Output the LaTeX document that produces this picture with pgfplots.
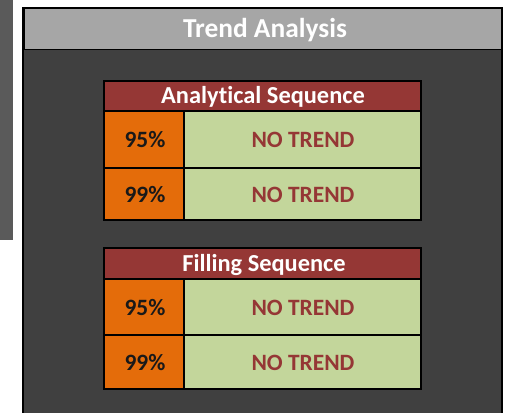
\documentclass[border=0pt]{standalone}
\usepackage{pgfplots}
\pgfplotsset{compat=1.18}
\usepackage{fontspec}
\setmainfont{Carlito}[Ligatures=NoCommon]

\definecolor{titlegray}{HTML}{A6A6A6}
\definecolor{panelgray}{HTML}{404040}
\definecolor{stripgray}{HTML}{5A5A5A}
\definecolor{hdrred}{HTML}{953735}
\definecolor{cellorange}{HTML}{E46C0A}
\definecolor{cellgreen}{HTML}{C3D69B}

% rectangle in pixel coordinates: x1,y1,x2,y2
\newcommand{\cellrect}[5]{%
  \addplot[#5] coordinates {(#1,#2) (#3,#2) (#3,#4) (#1,#4)} -- cycle;}

\begin{document}
\begin{tikzpicture}
\begin{axis}[
  width=508bp, height=413bp, scale only axis,
  xmin=0, xmax=508, ymin=0, ymax=413,
  y dir=reverse, hide axis,
]
  % background
  \cellrect{0}{0}{508}{413}{fill=white, draw=none}
  \cellrect{0}{0}{13}{240}{fill=stripgray, draw=none}

  % panel + title bar
  \cellrect{23}{8}{502}{420}{fill=panelgray, draw=black, line width=1.5bp}
  \cellrect{24}{9}{501}{50}{fill=titlegray, draw=black, line width=1bp}
  \node[text=white, font=\fontsize{27.5}{32}\selectfont\bfseries] at (axis cs:265,30) {Trend Analysis};

  % analytical sequence table
  \cellrect{104}{81}{421}{111}{fill=hdrred, draw=none}
  \cellrect{104}{111}{184}{168}{fill=cellorange, draw=black, line width=1.2bp}
  \cellrect{184}{111}{421}{168}{fill=cellgreen, draw=black, line width=1.2bp}
  \cellrect{104}{168}{184}{220}{fill=cellorange, draw=black, line width=1.2bp}
  \cellrect{184}{168}{421}{220}{fill=cellgreen, draw=black, line width=1.2bp}
  \cellrect{104}{81}{421}{220}{draw=black, line width=2.5bp}
  \addplot[black, line width=2bp] coordinates {(104,111) (421,111)};

  % filling sequence table
  \cellrect{104}{248}{421}{279}{fill=hdrred, draw=none}
  \cellrect{104}{279}{184}{335}{fill=cellorange, draw=black, line width=1.2bp}
  \cellrect{184}{279}{421}{335}{fill=cellgreen, draw=black, line width=1.2bp}
  \cellrect{104}{335}{184}{389}{fill=cellorange, draw=black, line width=1.2bp}
  \cellrect{184}{335}{421}{389}{fill=cellgreen, draw=black, line width=1.2bp}
  \cellrect{104}{248}{421}{389}{draw=black, line width=2.5bp}
  \addplot[black, line width=2bp] coordinates {(104,279) (421,279)};

  % texts
  \begin{scope}[every node/.style={font=\fontsize{23.5}{28}\selectfont\bfseries}]
    \node[text=white, font=\fontsize{24.5}{28}\selectfont\bfseries] at (axis cs:263,97) {Analytical Sequence};
    \node[text=black!90] at (axis cs:145,140) {95\%};
    \node[text=hdrred] at (axis cs:303,140) {NO TREND};
    \node[text=black!90] at (axis cs:145,195) {99\%};
    \node[text=hdrred] at (axis cs:303,195) {NO TREND};
    \node[text=white, font=\fontsize{24.5}{28}\selectfont\bfseries] at (axis cs:264,265) {Filling Sequence};
    \node[text=black!90] at (axis cs:145,308) {95\%};
    \node[text=hdrred] at (axis cs:303,308) {NO TREND};
    \node[text=black!90] at (axis cs:145,363) {99\%};
    \node[text=hdrred] at (axis cs:303,363) {NO TREND};
  \end{scope}
\end{axis}
\end{tikzpicture}
\end{document}
